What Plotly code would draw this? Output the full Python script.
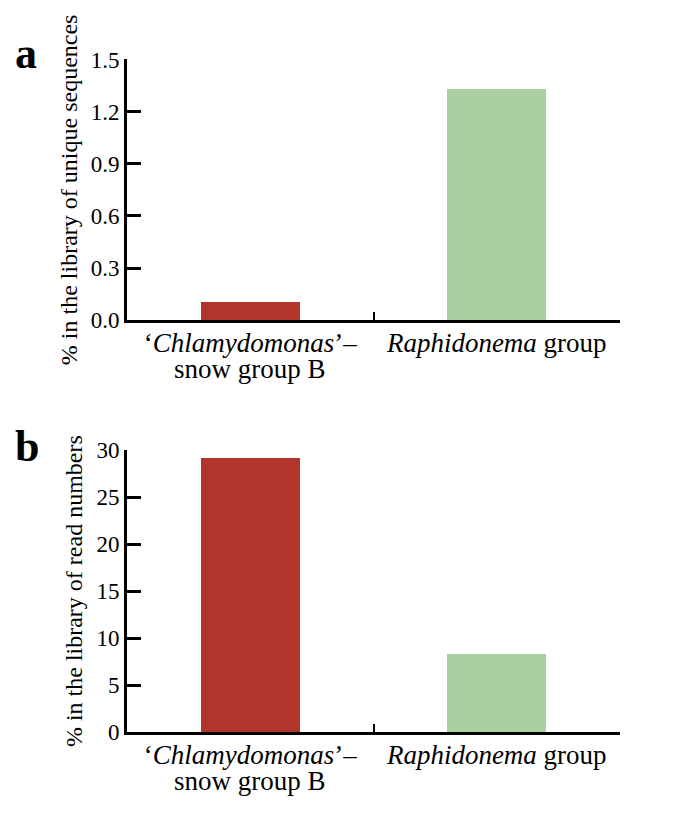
import plotly.graph_objects as go

categories = ["‘<i>Chlamydomonas</i>’–", "<i>Raphidonema</i> group"]
category_line2 = ["snow group B", ""]
unique_seq_pct = [0.10, 1.33]
read_num_pct = [29.1, 8.3]
bar_colors = ["#B2352D", "#AACF9F"]
ticks_a = [0.0, 0.3, 0.6, 0.9, 1.2, 1.5]
ticklabels_a = ["0.0", "0.3", "0.6", "0.9", "1.2", "1.5"]
ticks_b = [0, 5, 10, 15, 20, 25, 30]
ytitle_a = "% in the library of unique sequences"
ytitle_b = "% in the library of read numbers"

W, H = 676, 814
FONT = "Liberation Serif"

fig = go.Figure()
fig.add_trace(go.Bar(x=categories, y=unique_seq_pct, marker_color=bar_colors,
                     marker_line_width=0, width=0.4, xaxis="x", yaxis="y", showlegend=False))
fig.add_trace(go.Bar(x=categories, y=read_num_pct, marker_color=bar_colors,
                     marker_line_width=0, width=0.4, xaxis="x2", yaxis="y2", showlegend=False))

xdom = [127 / W, 620 / W]
ydom_a = [1 - 318 / H, 1 - 49 / H]
ydom_b = [1 - 743 / H, 1 - 452 / H]

xcommon = dict(domain=xdom, range=[-0.5, 1.5], showline=True, linecolor="black",
               linewidth=3, ticks="inside", tickson="boundaries", ticklen=8,
               tickwidth=2, tickcolor="black", showgrid=False, zeroline=False,
               ticklabelstandoff=-4,
               tickfont=dict(family=FONT, size=27, color="black"))
ycommon = dict(showline=True, linecolor="black", linewidth=3, ticks="inside",
               ticklen=14, tickwidth=3, tickcolor="black", showgrid=False,
               zeroline=False, tickfont=dict(family=FONT, size=23, color="black"))

annotations = [
    dict(text="<b>a</b>", x=13 / W, y=1 - 43 / H, xref="paper", yref="paper",
         xanchor="left", yanchor="middle", showarrow=False,
         font=dict(family=FONT, size=44, color="black")),
    dict(text="<b>b</b>", x=13 / W, y=1 - 448 / H, xref="paper", yref="paper",
         xanchor="left", yanchor="middle", showarrow=False,
         font=dict(family=FONT, size=44, color="black")),
]
for xa, ybase in (("x", 368), ("x2", 793)):
    for cat, line2 in zip(categories, category_line2):
        if line2:
            annotations.append(dict(text=line2, x=cat, xref=xa, y=1 - ybase / H, yref="paper",
                                    xanchor="center", yanchor="middle", showarrow=False,
                                    font=dict(family=FONT, size=27, color="black")))

fig.update_layout(
    width=W, height=H, margin=dict(l=0, r=0, t=0, b=0),
    plot_bgcolor="white", paper_bgcolor="white",
    font=dict(family=FONT, color="black"),
    bargap=0,
    xaxis=dict(anchor="y", **xcommon),
    xaxis2=dict(anchor="y2", **xcommon),
    yaxis=dict(domain=ydom_a, anchor="x", range=[0, 1.5], tickvals=ticks_a,
               ticktext=ticklabels_a,
               title=dict(text=ytitle_a, font=dict(family=FONT, size=24, color="black"), standoff=7),
               **ycommon),
    yaxis2=dict(domain=ydom_b, anchor="x2", range=[0, 30], tickvals=ticks_b,
                title=dict(text=ytitle_b, font=dict(family=FONT, size=24, color="black"), standoff=7),
                **ycommon),
    annotations=annotations,
)

fig.write_html("out.html")
